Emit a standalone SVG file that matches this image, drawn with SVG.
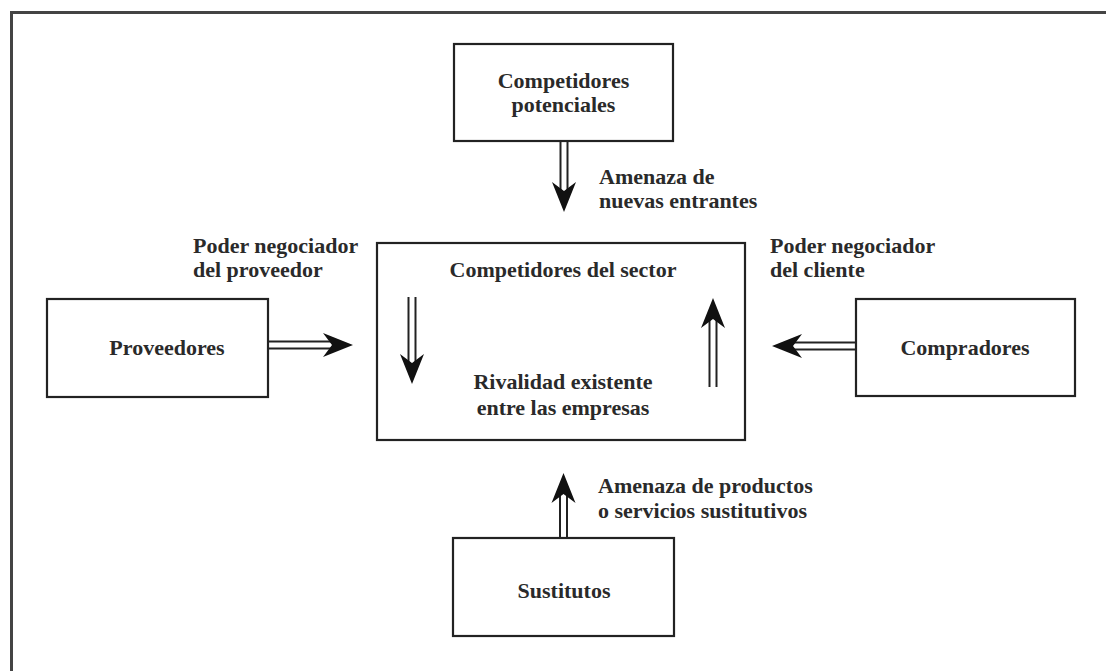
<svg xmlns="http://www.w3.org/2000/svg" width="1106" height="671" viewBox="0 0 1106 671">
  <style>
    .box { fill: #ffffff; stroke: #222222; stroke-width: 2.2; }
    .t { font-family: "Liberation Serif", "Times New Roman", serif; font-weight: bold; font-size: 22px; fill: #2a2a2a; }
    .c { text-anchor: middle; }
    .ln { stroke: #222222; stroke-width: 2; fill: none; }
    .hd { fill: #111111; }
  </style>
  <defs>
    <path id="head" d="M0,0 L-30,-12 L-21,0 L-30,12 Z"/>
  </defs>
  <rect x="0" y="0" width="1106" height="671" fill="#ffffff"/>
  <path d="M11.5,671 V12.5 H1106" fill="none" stroke="#444444" stroke-width="3"/>

  <g id="competidores-potenciales">
    <rect class="box" x="454" y="44" width="219" height="97"/>
    <text class="t c" x="563.5" y="88">Competidores</text>
    <text class="t c" x="563.5" y="112">potenciales</text>
  </g>

  <g id="competidores-sector">
    <rect class="box" x="377" y="243" width="368" height="197"/>
    <text class="t c" x="563" y="277">Competidores del sector</text>
    <text class="t c" x="563" y="389">Rivalidad existente</text>
    <text class="t c" x="563" y="415">entre las empresas</text>
  </g>

  <g id="proveedores">
    <rect class="box" x="47" y="299" width="221" height="98"/>
    <text class="t c" x="167" y="355">Proveedores</text>
  </g>

  <g id="compradores">
    <rect class="box" x="856" y="299" width="219" height="97"/>
    <text class="t c" x="965" y="355">Compradores</text>
  </g>

  <g id="sustitutos">
    <rect class="box" x="453" y="538" width="221" height="98"/>
    <text class="t c" x="564" y="598">Sustitutos</text>
  </g>

  <g id="connectors">
    <line class="ln" x1="560.5" y1="141" x2="560.5" y2="192"/>
    <line class="ln" x1="567.5" y1="141" x2="567.5" y2="192"/>
    <use href="#head" class="hd" transform="translate(564,212) rotate(90)"/>
    <line class="ln" x1="408.5" y1="297" x2="408.5" y2="364"/>
    <line class="ln" x1="415.5" y1="297" x2="415.5" y2="364"/>
    <use href="#head" class="hd" transform="translate(412,384) rotate(90)"/>
    <line class="ln" x1="709.5" y1="318" x2="709.5" y2="387"/>
    <line class="ln" x1="716.5" y1="318" x2="716.5" y2="387"/>
    <use href="#head" class="hd" transform="translate(713,298) rotate(-90)"/>
    <line class="ln" x1="268" y1="341.5" x2="333" y2="341.5"/>
    <line class="ln" x1="268" y1="348.5" x2="333" y2="348.5"/>
    <use href="#head" class="hd" transform="translate(353,345)"/>
    <line class="ln" x1="856" y1="342.5" x2="792" y2="342.5"/>
    <line class="ln" x1="856" y1="349.5" x2="792" y2="349.5"/>
    <use href="#head" class="hd" transform="translate(772,346) rotate(180)"/>
    <line class="ln" x1="560" y1="538" x2="560" y2="493"/>
    <line class="ln" x1="567" y1="538" x2="567" y2="493"/>
    <use href="#head" class="hd" transform="translate(563.5,473) rotate(-90)"/>
  </g>

  <g id="labels">
    <text class="t" x="599" y="184">Amenaza de</text>
    <text class="t" x="599" y="208">nuevas entrantes</text>
    <text class="t" x="193" y="253">Poder negociador</text>
    <text class="t" x="193" y="277">del proveedor</text>
    <text class="t" x="770" y="253">Poder negociador</text>
    <text class="t" x="770" y="277">del cliente</text>
    <text class="t" x="598" y="493">Amenaza de productos</text>
    <text class="t" x="598" y="518">o servicios sustitutivos</text>
  </g>
</svg>
